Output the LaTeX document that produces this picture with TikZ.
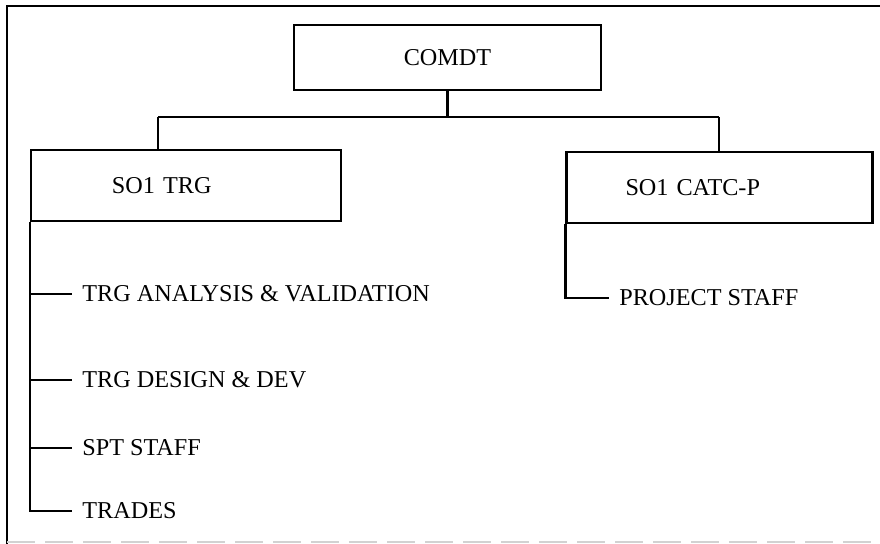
\documentclass[tikz,border=0pt]{standalone}
\usepackage{fontspec}
\setmainfont{Liberation Serif}
\usetikzlibrary{positioning}

\tikzset{
  orgbox/.style={draw, line width=1.2pt, align=left, minimum height=35.5pt},
  staff/.style={anchor=west, inner xsep=5pt},
  conn/.style={line width=1.2pt}
}

\begin{document}
\begin{tikzpicture}[x=0.5pt, y=-0.5pt, font=\fontsize{12.1}{14}\selectfont]
        \useasboundingbox (0,0) rectangle (880,544);

        % frame of the page
        \draw [line width=1.4pt] (880,6) -- (7,6) -- (7,544);
        \draw [gray!35, line width=0.6pt, dash pattern=on 14pt off 5pt] (7,542) -- (880,542);

        \node (comdt) [orgbox, minimum width=153.5pt, minimum height=32.5pt, align=center] at (447.5,57.5) {COMDT};
        \node (so1trg) [orgbox, text width=74pt, inner xsep=40.5pt] at (186,185.5) {SO1 TRG};
        \node (so1cat) [orgbox, text width=94pt, inner xsep=29.5pt] at (719.5,187.5) {SO1 CATC-P};

        \coordinate (busL) at (158,117);
        \coordinate (busR) at (719,117);

        \node (ana) [staff] at (72,294) {TRG ANALYSIS \& VALIDATION};
        \node (des) [staff] at (72,380) {TRG DESIGN \& DEV};
        \node (spt) [staff] at (72,448) {SPT STAFF};
        \node (trd) [staff] at (72,511) {TRADES};
        \node (proj) [staff] at (609,298) {PROJECT STAFF};

        \draw [conn] (comdt.south) -- (comdt.south |- busL);
        \draw [conn] (busL) -- (busR);
        \draw [conn] (busL) -- (busL |- so1trg.north);
        \draw [conn] (busR) -- (busR |- so1cat.north);

        \draw [conn] (so1trg.south west) |- (trd.west);
        \foreach \n in {ana, des, spt}
            \draw [conn] (so1trg.south west |- \n.west) -- (\n.west);
        \draw [conn] (so1cat.south west) |- (proj.west);
\end{tikzpicture}
\end{document}
